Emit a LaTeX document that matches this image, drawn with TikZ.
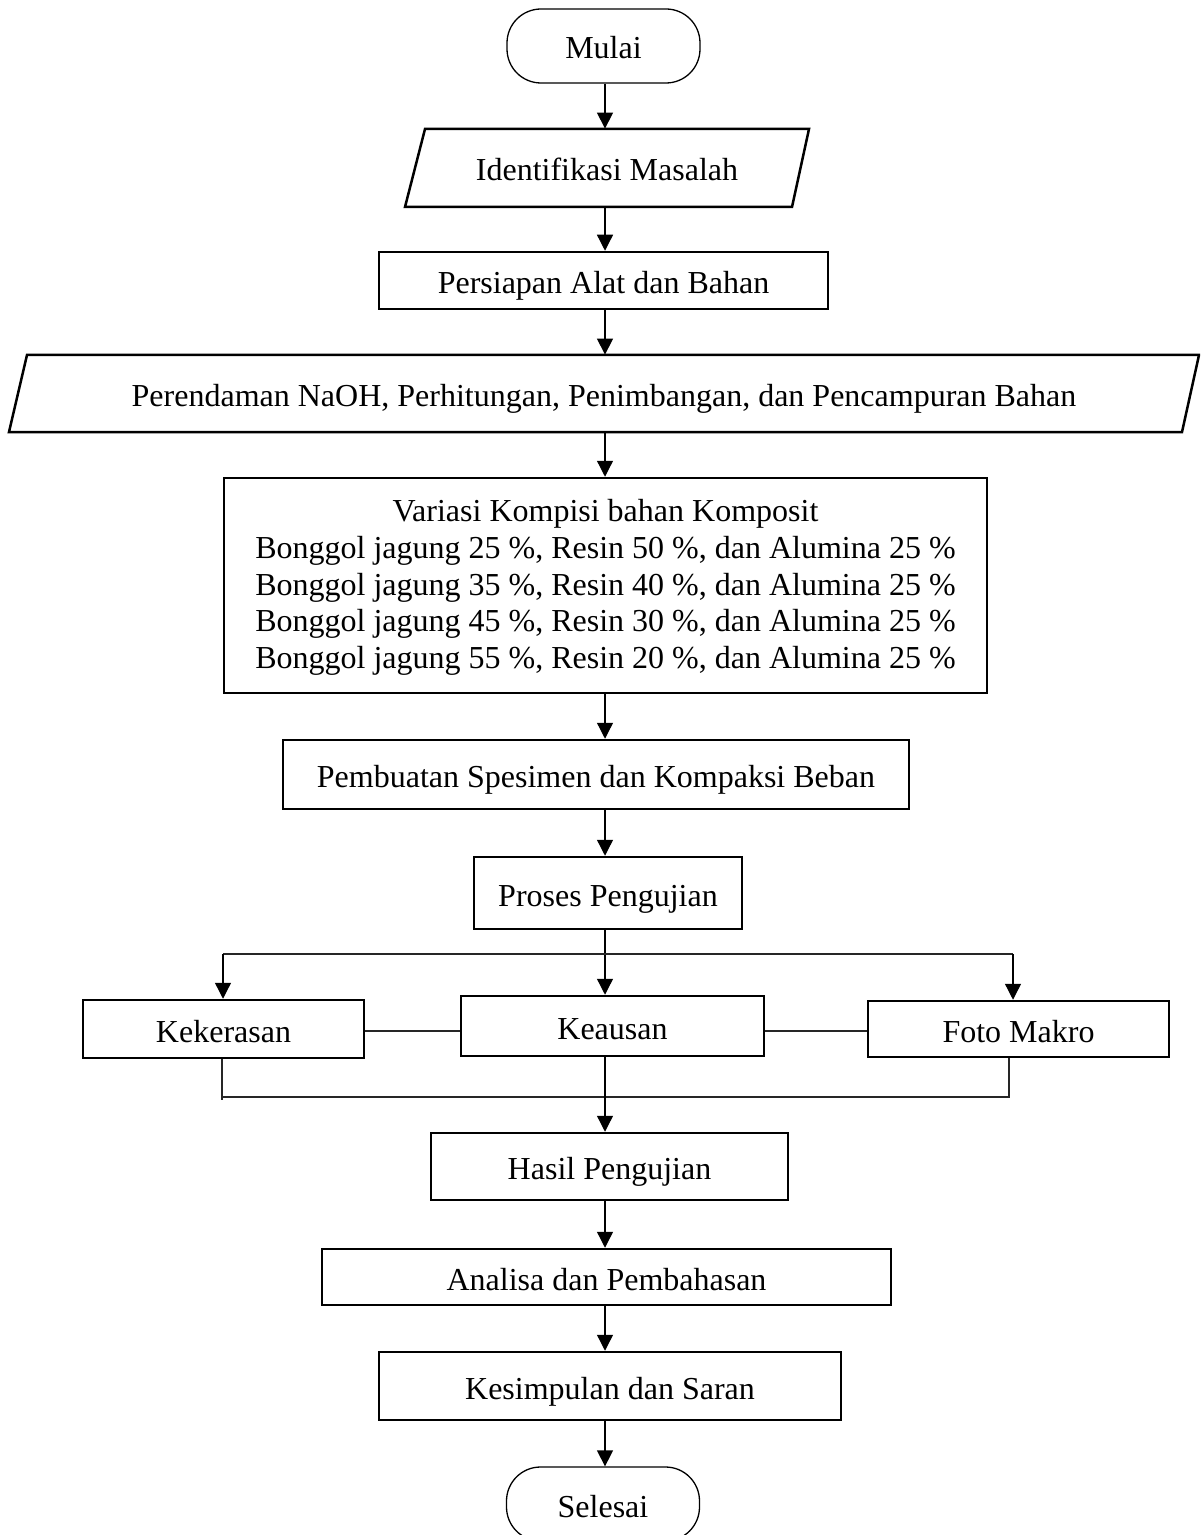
\documentclass[tikz,border=0pt]{standalone}
\usepackage{fontspec}
\setmainfont{Liberation Serif}
\usetikzlibrary{arrows.meta,calc}
\begin{document}
\begin{tikzpicture}[x=0.5pt,y=-0.5pt,
  txt/.style={font=\fontsize{16pt}{18.3pt}\selectfont, align=center, inner sep=0pt},
  one/.style={text height=13pt, text depth=0pt},
  sz/.style 2 args={minimum width=#1*0.5pt, minimum height=#2*0.5pt},
  box/.style={txt, draw, line width=1.25pt},
  shapeline/.style={line width=1.25pt, line join=miter},
  term/.style={txt, one, draw, line width=0.65pt, rounded corners=17pt},
  arr/.style={line width=0.65pt, -{Triangle[width=8pt,length=8pt]}},
  ln/.style={line width=0.6pt, draw=black!85}]
\useasboundingbox (0,0) rectangle (1200,1535);
\clip (0,0) rectangle (1200,1535);
\coordinate (spine) at (605,0);

% nodes
\node[term, sz={193}{74}] (mulai) at (603.5,46) {Mulai};

\node[txt, one, sz={380}{78}] (ident) at (607,168) {Identifikasi Masalah};
\draw[shapeline] (425,129) -- (809,129) -- (792,207) -- (405,207) -- cycle;

\node[box, one, sz={449}{57}] (persiapan) at (603.5,280.5) {Persiapan Alat dan Bahan};

\node[txt, one, sz={1170}{77}] (perendaman) at (604,393.5) {Perendaman NaOH, Perhitungan, Penimbangan, dan Pencampuran Bahan};
\draw[shapeline] (27,355) -- (1199,355) -- (1182,432) -- (9,432) -- cycle;

\node[box, sz={763}{215}] (variasi) at (605.5,585.5) {\rule{0pt}{13pt}Variasi Kompisi bahan Komposit\\
Bonggol jagung 25 \%, Resin 50 \%, dan Alumina 25 \%\\
Bonggol jagung 35 \%, Resin 40 \%, dan Alumina 25 \%\\
Bonggol jagung 45 \%, Resin 30 \%, dan Alumina 25 \%\\
Bonggol jagung 55 \%, Resin 20 \%, dan Alumina 25 \%};

\node[box, one, sz={626}{69}] (pembuatan) at (596,774.5) {Pembuatan Spesimen dan Kompaksi Beban};
\node[box, one, sz={268}{72}] (proses) at (608,893) {Proses Pengujian};

\node[box, one, sz={281}{58}] (kek) at (223.5,1029) {Kekerasan};
\node[box, one, sz={303}{60}] (keausan) at (612.5,1026) {Keausan};
\node[box, one, sz={301}{56}] (foto) at (1018.5,1029) {Foto Makro};

\node[box, one, sz={357}{67}] (hasil) at (609.5,1166.5) {Hasil Pengujian};
\node[box, one, sz={569}{56}] (analisa) at (606.5,1277) {Analisa dan Pembahasan};
\node[box, one, sz={462}{68}] (kesimpulan) at (610,1386) {Kesimpulan dan Saran};
\node[term, sz={193}{74}] (selesai) at (603,1504) {Selesai};

% connectors
\draw[arr] (mulai.south -| spine) -- (ident.north -| spine);
\draw[arr] (ident.south -| spine) -- (persiapan.north -| spine);
\draw[arr] (persiapan.south -| spine) -- (perendaman.north -| spine);
\draw[arr] (perendaman.south -| spine) -- (variasi.north -| spine);
\draw[arr] (variasi.south -| spine) -- (pembuatan.north -| spine);
\draw[arr] (pembuatan.south -| spine) -- (proses.north -| spine);
\draw[arr] (proses.south -| spine) -- (keausan.north -| spine);

\coordinate (forkL) at (223,954);
\coordinate (forkR) at (1013,954);
\draw[ln] (forkL) -- (forkR);
\draw[arr] (forkL) -- (forkL |- kek.north);
\draw[arr] (forkR) -- (forkR |- foto.north);

\draw[ln] ([yshift=-1pt]kek.east) -- ([yshift=-1pt]kek.east -| keausan.west);
\draw[ln] ([yshift=-2.5pt]keausan.east) -- ([yshift=-2.5pt]keausan.east -| foto.west);

\coordinate (joinL) at (222,1097);
\coordinate (joinR) at (1009,1097);
\draw[ln] (kek.south -| joinL) -- ([yshift=-1.5pt]joinL);
\draw[ln] (foto.south -| joinR) -- (joinR) -- (joinL);

\draw[arr] (keausan.south -| spine) -- (hasil.north -| spine);
\draw[arr] (hasil.south -| spine) -- (analisa.north -| spine);
\draw[arr] (analisa.south -| spine) -- (kesimpulan.north -| spine);
\draw[arr] (kesimpulan.south -| spine) -- (selesai.north -| spine);
\end{tikzpicture}
\end{document}
